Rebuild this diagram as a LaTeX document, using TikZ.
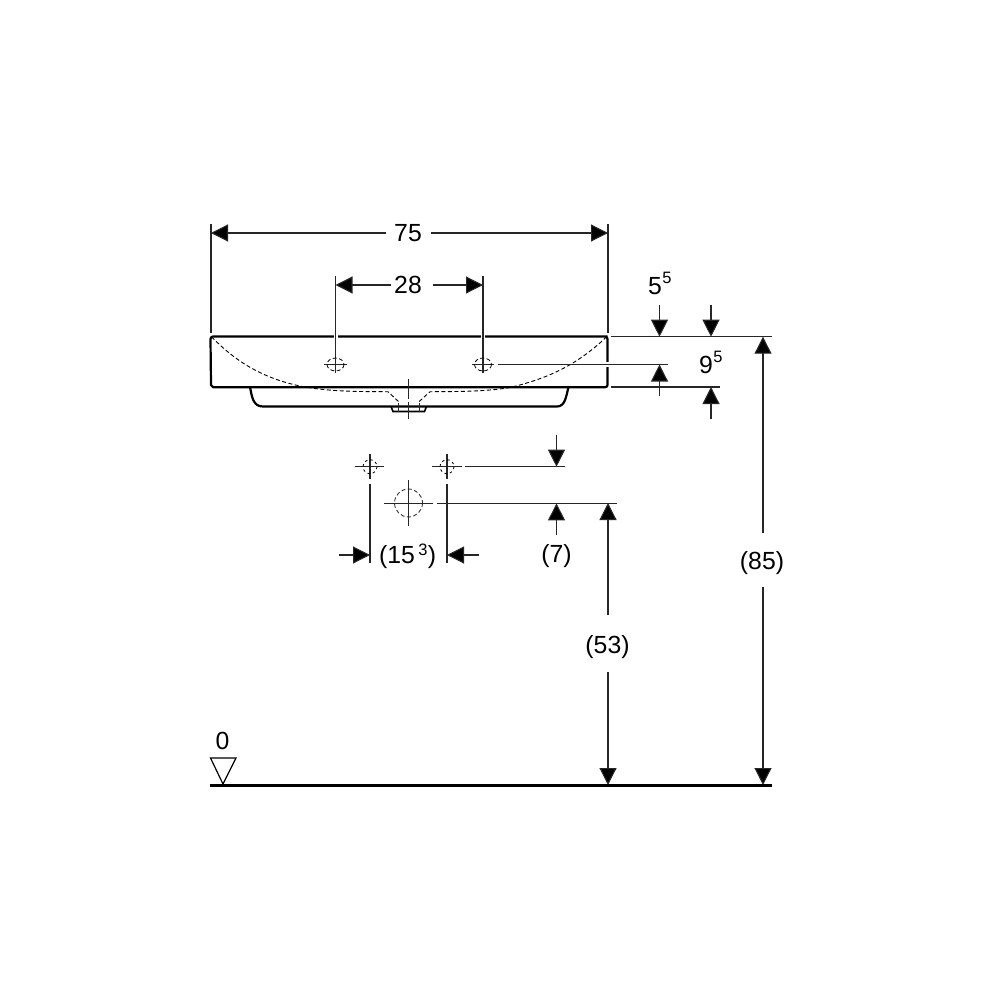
\documentclass[tikz,border=0pt]{standalone}
\usepackage{fontspec}
\setmainfont{Liberation Sans}
\usetikzlibrary{arrows.meta}
\tikzset{
  thinl/.style={line width=1.1pt,draw=black!85},
  outline/.style={line width=2.2pt,line join=round},
  hidden/.style={line width=0.9pt,dash pattern=on 4pt off 2.5pt},
  dima/.style={thinl,-{Triangle[length=17pt,width=17pt,fill=black]}},
  lab/.style={font=\fontsize{24.8}{26}\selectfont,inner sep=0pt,text=black},
  sup/.style={font=\fontsize{16.5}{17}\selectfont,inner sep=0pt,text=black},
  halo/.style={line width=4pt,draw=white},
}
\begin{document}
\begin{tikzpicture}[x=1pt,y=-1pt]
\fill[white] (0,0) rectangle (1000,1000);
\useasboundingbox (0,0) rectangle (1000,1000);

% basin outline
\draw[outline] (607.5,336.5) -- (213,336.5) to[out=180,in=90] (210.5,339) -- (211,385) to[out=270,in=180,looseness=0] (213,387.2) -- (605,387.2) to[out=0,in=270] (607.5,385) -- (607.5,339) to[out=90,in=0] (605,336.5);
\draw[outline] (250,387) .. controls (252,397) and (253,406.5) .. (263,406.5) -- (557,406.5) .. controls (565,406.5) and (566,397) .. (568.5,387);
\draw[line width=1.6pt] (391,406.5) -- (393,411.5) -- (424.5,411.5) -- (426.5,406.5);
\draw[thinl] (398.7,403) -- (398.7,411.5) (419.3,403) -- (419.3,411.5);
% hidden bowl
\draw[hidden] (211.5,336.7) .. controls (235,361) and (262,378) .. (300,386) .. controls (325,391) and (350,391.7) .. (388,391.7) -- (399,402);
\draw[hidden] (606.7,336.7) .. controls (575,367) and (545,379) .. (510,387.5) .. controls (490,391) and (465,391.7) .. (430,391.7) -- (419,401.7);
% centre line
\draw[thinl] (408.5,379) -- (408.5,399) (408.5,402) -- (408.5,419);

% upper holes
\draw[halo] (335.5,334) -- (335.5,339);
\draw[halo] (483,334) -- (483,339);
\draw[thinl] (335.5,276) -- (335.5,373) (324,364.5) -- (347,364.5);
\draw[thinl] (483,276) -- (483,373) (472,364.5) -- (494,364.5);
\draw[hidden,line width=0.8pt] (335.5,364.5) ellipse [x radius=8.5,y radius=6.5];
\draw[hidden,line width=0.8pt] (483,364.5) ellipse [x radius=8.5,y radius=6.5];
\draw[halo] (607.5,362) -- (607.5,367);
\draw[thinl] (498,364.5) -- (668,364.5);

% extension lines top
\draw[thinl] (211,224) -- (211,333) (608,224) -- (608,333);
\draw[thinl] (611,336.7) -- (772,336.7) (611,387) -- (720,387);

% dimension 75 and 28
\node[lab] (l75) at (408,233) {75};
\node[lab] (l28) at (408,285) {28};
\coordinate (a75l) at (211,233); \coordinate (a75r) at (608,233);
\coordinate (a28l) at (335.5,285); \coordinate (a28r) at (483,285);
\draw[dima] (386,233) -- (a75l);
\draw[dima] (431,233) -- (a75r);
\draw[dima] (391,285) -- (a28l);
\draw[dima] (433,285) -- (a28r);

% 5-5 and 9-5
\node[lab] (l55) at (655,286) {5};
\node[sup] (s55) at (667,278) {5};
\node[lab] (l95) at (706,365) {9};
\node[sup] (s95) at (718,357) {5};
\draw[dima] (659.5,305) -- (659.5,336.7);
\draw[dima] (711,305) -- (711,336.7);
\draw[dima] (659.5,396) -- (659.5,364.5);
\draw[dima] (711,419) -- (711,387);

% 85
\node[lab] (l85) at (762,563) {(85)};
\coordinate (a85t) at (763,336.7); \coordinate (a85b) at (763,785);
\draw[dima] (763,533) -- (a85t);
\draw[dima] (763,587) -- (a85b);

% 53
\node[lab] (l53) at (607.5,647) {(53)};
\coordinate (a53t) at (608,503); \coordinate (a53b) at (608,785);
\draw[dima] (608,615) -- (a53t);
\draw[dima] (608,672) -- (a53b);

% lower pattern
\draw[thinl] (355,466.7) -- (384,466.7) (370,454) -- (370,479);
\draw[thinl] (432,466.7) -- (462,466.7) (447,454) -- (447,479);
\draw[hidden,line width=0.8pt,dash pattern=on 2.5pt off 3pt] (370,466.7) circle [radius=7];
\draw[hidden,line width=0.8pt,dash pattern=on 2.5pt off 3pt] (447,466.7) circle [radius=7];
\draw[hidden,draw=black!80] (408.5,503) circle [radius=14];
\draw[thinl] (384,503.4) -- (433,503.4) (408.5,480) -- (408.5,526);
\draw[thinl] (437,503.4) -- (617,503.4) (465,466.7) -- (565,466.7);
\draw[thinl] (370,484) -- (370,563) (447,484) -- (447,563);

% (15^3)
\node[lab] (l153a) at (397,557) {(15};
\node[sup] (l153b) at (423,549.5) {3};
\node[lab] (l153c) at (432,557) {)};
\draw[dima] (339,555) -- (370,555);
\draw[dima] (479,555) -- (447,555);

% (7)
\node[lab] (l7) at (556.5,556) {(7)};
\draw[dima] (556.5,435) -- (556.5,466.7);
\draw[dima] (556.5,535) -- (556.5,503.4);

% floor
\draw[line width=3pt] (210,785.5) -- (772,785.5);
\node[lab] (l0) at (222.5,741) {0};
\draw[line width=1.2pt,line join=miter] (210.5,758) -- (236,758) -- (223,784) -- cycle;
\end{tikzpicture}
\end{document}
